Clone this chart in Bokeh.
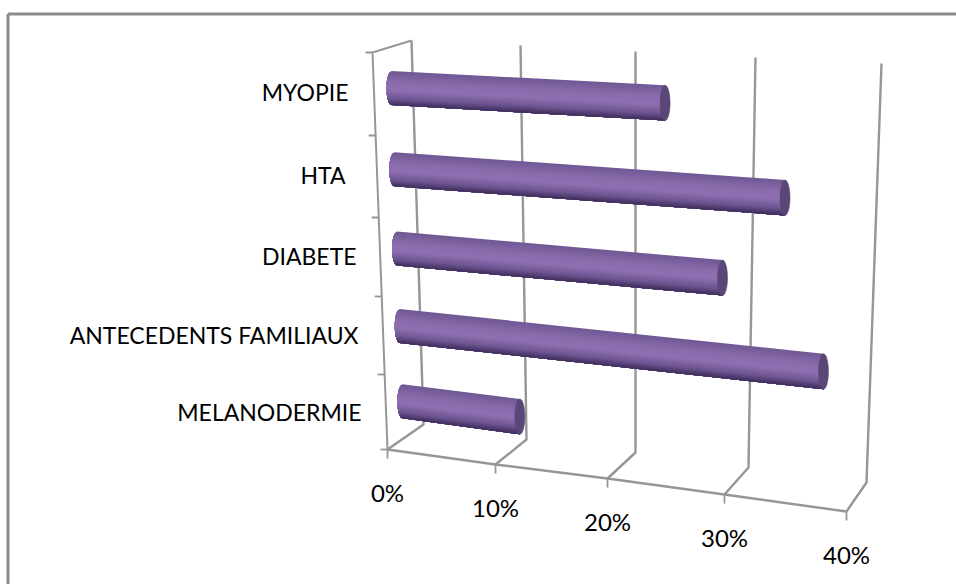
import numpy as np
from bokeh.plotting import figure
from bokeh.models import Range1d
from bokeh.core.properties import value
from bokeh.embed import file_html
from bokeh.resources import INLINE

# Survey data: share of patients per risk factor, percent
categories = ["MYOPIE", "HTA", "DIABETE", "ANTECEDENTS FAMILIAUX", "MELANODERMIE"]
shares = [23.7, 33.5, 28.6, 37, 11]
ticks = [0, 10, 20, 30, 40]
tick_labels = ["0%", "10%", "20%", "30%", "40%"]

# Perspective frame of the 3D box, in page pixels (y grows downward)
BACK_TOP_X = [411, 520, 635, 755, 881]
BACK_TOP_Y = [40, 45, 51, 57, 63]
BACK_BOT_X = [423, 526, 635, 748, 866]
BACK_BOT_Y = [424, 439, 452, 467, 482]
FRONT_TOP_X = [372, 486, 606, 733, 864]
FRONT_TOP_Y = [52, 57, 62, 68, 75]
FRONT_BOT_X = [387, 495, 607, 724, 846]
FRONT_BOT_Y = [449, 464, 478, 494, 511]
WALL_TICK_Y = [52, 135, 217, 296, 374, 449]
DEPTH = 0.45
BAR_RY = 17.0
BAR_RX = 5.0

GRID = "#969696"
SHADE_STOPS = [(-1.0, (112, 88, 148)), (-0.35, (138, 108, 172)), (0.1, (144, 112, 178)),
               (0.6, (110, 86, 146)), (1.0, (62, 46, 92))]
CAP = "#5b4678"


def plane(v, t, d):
    """Project (value, vertical fraction, depth fraction) onto the page."""
    tx = np.interp(v, ticks, BACK_TOP_X) * d + np.interp(v, ticks, FRONT_TOP_X) * (1 - d)
    ty = np.interp(v, ticks, BACK_TOP_Y) * d + np.interp(v, ticks, FRONT_TOP_Y) * (1 - d)
    bx = np.interp(v, ticks, BACK_BOT_X) * d + np.interp(v, ticks, FRONT_BOT_X) * (1 - d)
    by = np.interp(v, ticks, BACK_BOT_Y) * d + np.interp(v, ticks, FRONT_BOT_Y) * (1 - d)
    return tx + (bx - tx) * t, ty + (by - ty) * t


p = figure(width=956, height=584, output_backend="svg", toolbar_location=None,
           x_range=Range1d(0, 956), y_range=Range1d(584, 0), min_border=0,
           outline_line_color=None, background_fill_color="white")
p.axis.visible = False
p.grid.visible = False

# Chart frame: the top and left edges run along the page
p.line([7.5, 7.5], [584, 13.5], line_color="#8c8c8c", line_width=3)
p.line([7.5, 956], [13.5, 13.5], line_color="#8c8c8c", line_width=3)

# Back wall gridlines and floor lines
for i in range(len(ticks)):
    p.line([BACK_TOP_X[i], BACK_BOT_X[i], FRONT_BOT_X[i]],
           [BACK_TOP_Y[i], BACK_BOT_Y[i], FRONT_BOT_Y[i]], line_color=GRID, line_width=2.4)
    p.line([FRONT_BOT_X[i], FRONT_BOT_X[i]], [FRONT_BOT_Y[i], FRONT_BOT_Y[i] + 9],
           line_color=GRID, line_width=1.8)

# Floor front edge and side wall
p.line(FRONT_BOT_X, FRONT_BOT_Y, line_color=GRID, line_width=2.4)
p.line([FRONT_BOT_X[0], FRONT_TOP_X[0], BACK_TOP_X[0]],
       [FRONT_BOT_Y[0], FRONT_TOP_Y[0], BACK_TOP_Y[0]], line_color=GRID, line_width=2)

# Category ticks on the side wall
wall_t = [(y - WALL_TICK_Y[0]) / (WALL_TICK_Y[-1] - WALL_TICK_Y[0]) for y in WALL_TICK_Y]
for t, wy in zip(wall_t, WALL_TICK_Y):
    wx = FRONT_TOP_X[0] + (FRONT_BOT_X[0] - FRONT_TOP_X[0]) * t
    p.line([wx - 7, wx], [wy, wy], line_color=GRID, line_width=1.8)


def shade(s):
    xs = [a for a, _ in SHADE_STOPS]
    rgb = [int(np.interp(s, xs, [c[j] for _, c in SHADE_STOPS])) for j in range(3)]
    return "#%02x%02x%02x" % tuple(rgb)


# Cylinders: shaded bands are painted top to bottom, each one reaching the lower
# edge, so the colour steps leave no seams between them
STRIPS = 28
edges = np.linspace(-1, 1, STRIPS + 1)
for i, share in enumerate(shares):
    t = (wall_t[i] + wall_t[i + 1]) / 2
    x0, y0 = plane(0, t, DEPTH)
    x1, y1 = plane(share, t, DEPTH)
    for a in edges[:-1]:
        sub = np.linspace(a, 1, 24)
        left_x = x0 - BAR_RX * np.sqrt(np.clip(1 - sub ** 2, 0, 1))
        left_y = y0 + BAR_RY * sub
        right_x = x1 + 0 * sub
        right_y = y1 + (BAR_RY + 0.7) * sub
        col = shade(a + 1 / STRIPS)
        p.patch(np.r_[left_x, right_x[::-1]], np.r_[left_y, right_y[::-1]],
                fill_color=col, line_color=None)
    angle = np.linspace(0, 2 * np.pi, 50)
    p.patch(x1 + BAR_RX * np.cos(angle), y1 + (BAR_RY + 0.7) * np.sin(angle),
            fill_color=CAP, line_color=CAP, line_width=0.5)

# Category labels, right-aligned against the side wall
lab_x = [348, 345, 356, 358, 361]
lab_y = [91, 174, 255, 334, 411]
p.text(lab_x, lab_y, text=categories, text_font=value("Lato"), text_font_size="23px",
       text_align="right", text_baseline="middle", text_color="#000000")

# Value labels below the floor
p.text(FRONT_BOT_X, [y + 43 for y in FRONT_BOT_Y], text=tick_labels, text_font=value("Lato"),
       text_font_size="24px", text_align="center", text_baseline="middle", text_color="#000000")

open("out.html", "w").write(file_html(p, INLINE))
